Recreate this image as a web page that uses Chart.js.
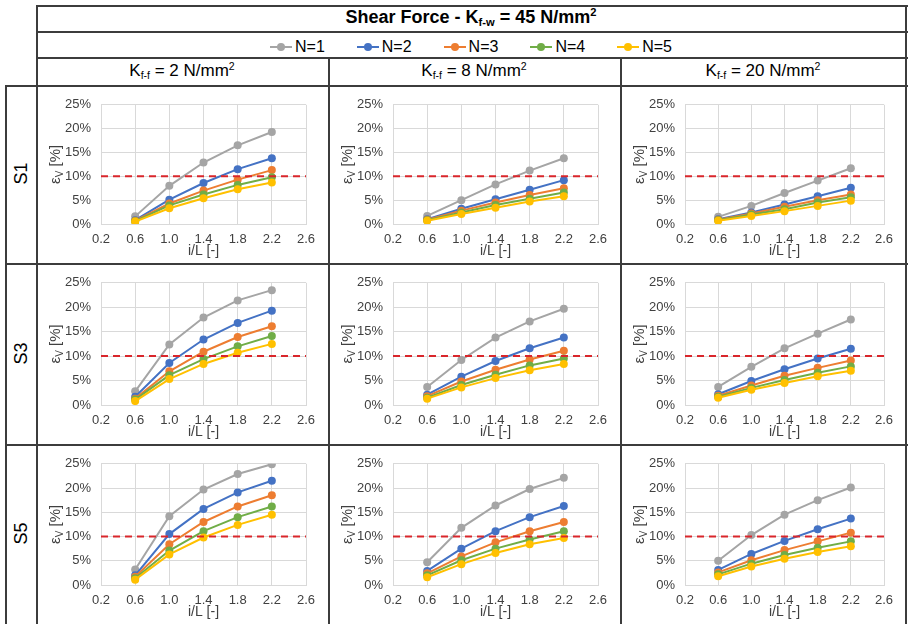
<!DOCTYPE html>
<html lang="en">
<head>
<meta charset="UTF-8">
<title>Shear Force</title>
<script src="https://cdn.jsdelivr.net/npm/chart.js"></script>
<style>
    body { margin: 0; background: #fff; }
    #wrap { position: relative; width: 908px; height: 624px; overflow: hidden; font-family: "Liberation Sans", Arial, sans-serif; color: #000; }
    .ln { position: absolute; background: #3c3c3c; }
    .txt { position: absolute; text-align: center; white-space: nowrap; font-family: "Liberation Sans Narrow", "Arial Narrow", "Liberation Sans", sans-serif; }
    .txt sub { font-size: 62%; vertical-align: -0.25em; line-height: 0; }
    .txt sup { font-size: 62%; vertical-align: 0.6em; line-height: 0; }
    .rowlab { position: absolute; font-size: 18px; transform: rotate(-90deg); transform-origin: center; width: 60px; text-align: center; }
    .leg { display: inline-flex; align-items: center; margin: 0 16px; font-size: 16px; }
    .mk { position: relative; width: 22px; height: 2px; margin-right: 3px; }
    .mk i { position: absolute; left: 7px; top: -3px; width: 8px; height: 8px; border-radius: 50%; }
    .cell { position: absolute; }
</style>
</head>
<body>
<div id="wrap">
    <div class="txt" style="left:36px; width:870px; top:7px; font-size:18px; font-weight:bold;">Shear Force - K<sub>f-w</sub> = 45 N/mm<sup>2</sup></div>
    <div class="txt" id="legend" style="left:36px; width:870px; top:34px;"></div>
</div>

<script>
    // data
    const xVals = [0.6, 1.0, 1.4, 1.8, 2.2];
    const xTicks = [0.2, 0.6, 1.0, 1.4, 1.8, 2.2, 2.6];
    const yTicks = [0, 5, 10, 15, 20, 25];
    const limit = 10;
    const seriesNames = ['N=1', 'N=2', 'N=3', 'N=4', 'N=5'];
    const seriesColors = ['#A5A5A5', '#4472C4', '#ED7D31', '#70AD47', '#FFC000'];
    const rowLabels = ['S1', 'S3', 'S5'];
    const kffLabels = ['2', '8', '20'];

    // εv [%], one row for each N=1..5
    const s1_k2 = [[1.6, 8.0, 12.9, 16.5, 19.3], [0.8, 5.1, 8.6, 11.5, 13.8], [0.7, 4.3, 7.0, 9.3, 11.3], [0.6, 3.9, 6.2, 8.2, 9.8], [0.5, 3.3, 5.4, 7.3, 8.7]];
    const s1_k8 = [[1.7, 5.0, 8.3, 11.2, 13.8], [1.0, 3.2, 5.2, 7.2, 9.2], [0.9, 2.8, 4.5, 6.1, 7.5], [0.8, 2.4, 4.0, 5.3, 6.6], [0.7, 2.1, 3.4, 4.7, 5.8]];
    const s1_k20 = [[1.5, 3.8, 6.5, 9.1, 11.7], [1.0, 2.4, 4.1, 5.8, 7.6], [0.9, 2.2, 3.6, 5.0, 6.2], [0.8, 2.0, 3.1, 4.5, 5.6], [0.7, 1.7, 2.7, 3.8, 4.9]];
    const s3_k2 = [[2.8, 12.4, 17.9, 21.4, 23.5], [1.7, 8.6, 13.4, 16.8, 19.3], [1.3, 6.9, 10.9, 13.9, 16.1], [1.1, 6.1, 9.4, 12.0, 14.1], [0.8, 5.3, 8.4, 10.7, 12.5]];
    const s3_k8 = [[3.7, 9.2, 13.8, 17.1, 19.7], [2.1, 5.8, 9.0, 11.6, 13.8], [1.8, 4.8, 7.2, 9.3, 11.1], [1.5, 4.1, 6.2, 8.1, 9.5], [1.3, 3.6, 5.5, 7.1, 8.4]];
    const s3_k20 = [[3.7, 7.8, 11.6, 14.6, 17.5], [2.2, 4.9, 7.3, 9.5, 11.5], [1.9, 4.0, 6.0, 7.6, 9.1], [1.7, 3.5, 5.1, 6.6, 7.9], [1.5, 3.1, 4.5, 5.9, 7.0]];
    const s5_k2 = [[3.2, 14.2, 19.7, 22.9, 24.9], [2.0, 10.5, 15.7, 19.1, 21.5], [1.7, 8.4, 13.0, 16.2, 18.5], [1.4, 7.1, 11.1, 14.0, 16.2], [1.1, 6.3, 9.8, 12.4, 14.5]];
    const s5_k8 = [[4.7, 11.8, 16.4, 19.8, 22.1], [2.9, 7.5, 11.1, 14.0, 16.3], [2.4, 5.9, 8.8, 11.1, 13.0], [2.0, 5.1, 7.5, 9.4, 11.1], [1.6, 4.3, 6.6, 8.4, 9.7]];
    const s5_k20 = [[5.0, 10.3, 14.5, 17.5, 20.1], [3.1, 6.4, 9.1, 11.5, 13.7], [2.6, 5.1, 7.2, 9.0, 10.8], [2.2, 4.4, 6.2, 7.7, 9.0], [1.8, 3.8, 5.4, 6.8, 8.0]];

    const panels = [[s1_k2, s1_k8, s1_k20], [s3_k2, s3_k8, s3_k20], [s5_k2, s5_k8, s5_k20]];

    // table layout
    const colX = [36, 328, 620, 906];
    const rowY = [85, 263, 444, 624];
    const wrap = document.getElementById('wrap');

    function line(x, y, w, h) {
        const d = document.createElement('div');
        d.className = 'ln';
        d.style.cssText = `left:${x}px;top:${y}px;width:${w}px;height:${h}px`;
        wrap.appendChild(d);
    }
    line(36, 5, 872, 2);
    line(36, 31, 872, 2);
    line(36, 57, 872, 2);
    rowY.slice(0, 3).forEach(y => line(5, y, 903, 2));
    line(36, 5, 2, 619);
    line(5, 85, 2, 539);
    line(328, 57, 2, 567);
    line(620, 57, 2, 567);
    line(905, 5, 2, 619);

    // legend
    const legend = document.getElementById('legend');
    seriesNames.forEach((n, i) => {
        const s = document.createElement('span');
        s.className = 'leg';
        s.innerHTML = `<span class="mk" style="background:${seriesColors[i]}"><i style="background:${seriesColors[i]}"></i></span>${n}`;
        legend.appendChild(s);
    });

    // column + row headers
    kffLabels.forEach((k, c) => {
        const d = document.createElement('div');
        d.className = 'txt';
        d.style.cssText = `left:${colX[c]}px;width:${colX[c + 1] - colX[c]}px;top:61px;font-size:17px`;
        d.innerHTML = `K<sub>f-f</sub> = ${k} N/mm<sup>2</sup>`;
        wrap.appendChild(d);
    });
    rowLabels.forEach((r, i) => {
        const d = document.createElement('div');
        d.className = 'rowlab';
        const mid = (rowY[i] + rowY[i + 1]) / 2;
        d.style.cssText = `left:${21 - 30}px;top:${mid - 11}px`;
        d.textContent = r;
        wrap.appendChild(d);
    });

    // y axis title with subscript
    const yTitle = {
        id: 'yTitle',
        afterDraw(chart) {
            const ctx = chart.ctx;
            const area = chart.chartArea;
            const big = '15px "Liberation Sans", Arial';
            const small = '10px "Liberation Sans", Arial';
            ctx.save();
            ctx.translate(18, (area.top + area.bottom) / 2);
            ctx.rotate(-Math.PI / 2);
            ctx.fillStyle = '#404040';
            ctx.textBaseline = 'middle';
            ctx.textAlign = 'left';
            ctx.font = big;
            const w1 = ctx.measureText('ε').width;
            const w3 = ctx.measureText(' [%]').width;
            ctx.font = small;
            const w2 = ctx.measureText('V').width;
            let x = -(w1 + w2 + w3) / 2;
            ctx.font = big;
            ctx.fillText('ε', x, 0);
            x += w1;
            ctx.font = small;
            ctx.fillText('V', x, 4);
            x += w2;
            ctx.font = big;
            ctx.fillText(' [%]', x, 0);
            ctx.restore();
        }
    };

    const tickFont = { family: '"Liberation Sans", Arial', size: 13 };
    const tickColor = '#404040';

    panels.forEach((row, r) => {
        row.forEach((series, c) => {
            const cell = document.createElement('div');
            cell.className = 'cell';
            const w = colX[c + 1] - colX[c] - 2;
            const h = rowY[r + 1] - rowY[r] - 2;
            cell.style.cssText = `left:${colX[c] + 2}px;top:${rowY[r] + 2}px;width:${w}px;height:${h}px`;
            const cv = document.createElement('canvas');
            cv.width = w;
            cv.height = h;
            cell.appendChild(cv);
            wrap.appendChild(cell);

            const datasets = series.map((vals, i) => ({
                label: seriesNames[i],
                data: vals.map((v, j) => ({ x: xVals[j], y: v })),
                borderColor: seriesColors[i],
                backgroundColor: seriesColors[i],
                borderWidth: 2,
                pointRadius: 4,
                pointBorderWidth: 0,
                tension: 0,
                order: 5 - i
            }));
            datasets.push({
                label: 'limit',
                data: [{ x: xTicks[0], y: limit }, { x: xTicks[xTicks.length - 1], y: limit }],
                borderColor: '#D9262B',
                borderDash: [7, 5],
                borderWidth: 2,
                pointRadius: 0,
                order: 0
            });

            new Chart(cv, {
                type: 'line',
                data: { datasets },
                options: {
                    responsive: false,
                    animation: false,
                    layout: { padding: { left: 0, right: 22, top: 12, bottom: 0 } },
                    plugins: { legend: { display: false }, tooltip: { enabled: false } },
                    scales: {
                        x: {
                            type: 'linear',
                            min: xTicks[0],
                            max: xTicks[xTicks.length - 1],
                            afterBuildTicks: s => { s.ticks = xTicks.map(v => ({ value: v })); },
                            afterFit: s => { s.height = 39; },
                            ticks: { callback: v => v.toFixed(1), color: tickColor, font: tickFont, padding: 8, maxRotation: 0, autoSkip: false },
                            grid: { color: '#D9D9D9', drawTicks: false },
                            border: { color: '#D9D9D9' },
                            title: { display: true, text: 'i/L [-]', color: tickColor, font: { family: '"Liberation Sans", Arial', size: 14 }, padding: { top: 0, bottom: 3 } }
                        },
                        y: {
                            min: yTicks[0],
                            max: yTicks[yTicks.length - 1],
                            afterBuildTicks: s => { s.ticks = yTicks.map(v => ({ value: v })); },
                            afterFit: s => { s.width = 63; },
                            ticks: { callback: v => v + '%', color: tickColor, font: tickFont, padding: 10 },
                            grid: { color: '#D9D9D9', drawTicks: false },
                            border: { display: false }
                        }
                    }
                },
                plugins: [yTitle]
            });
        });
    });
</script>
</body>
</html>
